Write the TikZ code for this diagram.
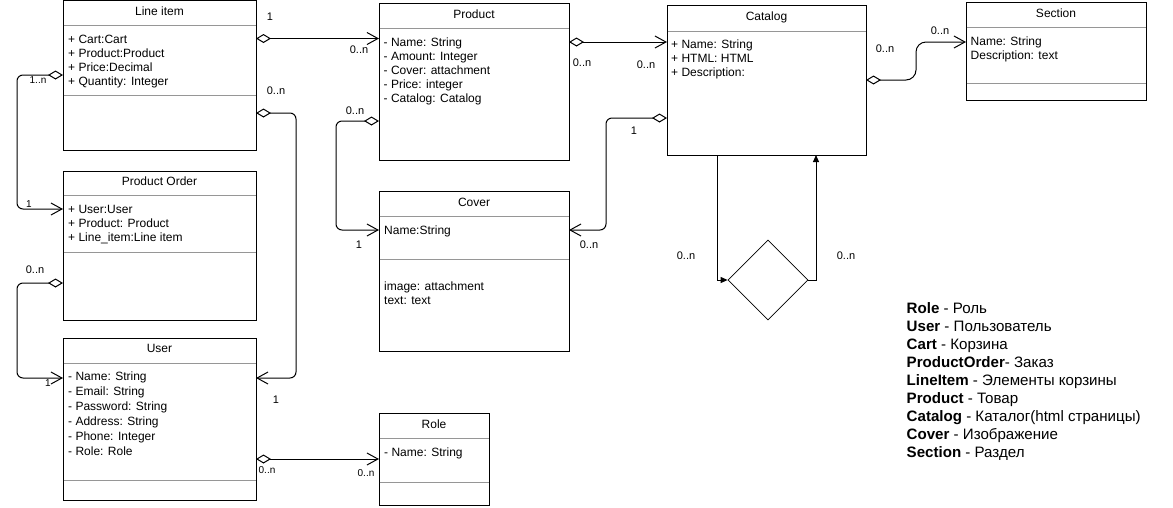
\documentclass[tikz,border=0pt]{standalone}
\usepackage{fontspec}
\setmainfont{Liberation Sans}
\usetikzlibrary{arrows.meta,shapes.geometric}
\definecolor{sepgray}{RGB}{150,150,150}
\tikzset{
 cls/.style={draw=black, line width=1pt, anchor=north west, inner sep=0pt, outer sep=0pt},
 sepline/.style={draw=sepgray, line width=1pt, shorten <=0.5pt, shorten >=0.5pt},
 ttl/.style={anchor=base, inner sep=0pt, font=\fontsize{12}{14}\selectfont},
 attr/.style={anchor=base west, inner sep=0pt, font=\fontsize{12}{14}\selectfont},
 mult/.style={inner sep=0pt, font=\fontsize{11}{13}\selectfont},
 smult/.style={inner sep=0pt, font=\fontsize{10}{12}\selectfont},
 agg/.style={draw, line width=1pt, rounded corners=6pt, arrows={Diamond[open,length=15pt,width=9pt]-Straight Barb[length=11pt,width=12pt]}},
 flow/.style={draw, line width=1pt, -{Triangle[length=7pt,width=6pt]}},
 dshape/.style={diamond, draw, line width=0.8pt, minimum width=80pt, minimum height=80pt, inner sep=0pt, aspect=1},
 legend/.style={anchor=base west, inner sep=0pt, font=\fontsize{15.1}{18}\selectfont},
}
\begin{document}
\begin{tikzpicture}[x=1pt,y=-1pt]
\useasboundingbox (0,0) rectangle (1173,507);

% ---------- Line item
\node[cls, minimum width=193pt, minimum height=149.5pt] (li) at (63,0.5) {};
\draw[sepline] (li.west |- 0,25.5) -- (li.east |- 0,25.5);
\draw[sepline] (li.west |- 0,95.5) -- (li.east |- 0,95.5);
\node[ttl] (li-t) at (159.5,15.5) {Line item};
\foreach \t [count=\i] in {+ Cart:Cart, + Product:Product, + Price:Decimal, + Quantity: Integer}
  \node[attr] (li-a\i) at ({68},{43+14*(\i-1)}) {\t};

% ---------- Product Order
\node[cls, minimum width=193pt, minimum height=149pt] (po) at (63,171) {};
\draw[sepline] (po.west |- 0,195.5) -- (po.east |- 0,195.5);
\draw[sepline] (po.west |- 0,252) -- (po.east |- 0,252);
\node[ttl] (po-t) at (159.5,185.5) {Product Order};
\foreach \t [count=\i] in {+ User:User, + Product: Product, + Line\_item:Line item}
  \node[attr] (po-a\i) at ({68},{213+14*(\i-1)}) {\t};

% ---------- User
\node[cls, minimum width=193pt, minimum height=162pt] (user) at (63,338) {};
\draw[sepline] (user.west |- 0,363) -- (user.east |- 0,363);
\draw[sepline] (user.west |- 0,480) -- (user.east |- 0,480);
\node[ttl] (user-t) at (159.5,352) {User};
\foreach \t [count=\i] in {- Name: String, - Email: String, - Password: String, - Address: String, - Phone: Integer, - Role: Role}
  \node[attr] (user-a\i) at ({68},{380+15*(\i-1)}) {\t};

% ---------- Product
\node[cls, minimum width=190pt, minimum height=156.5pt] (prod) at (379,3.5) {};
\draw[sepline] (prod.west |- 0,28.5) -- (prod.east |- 0,28.5);
\node[ttl] (prod-t) at (474,18) {Product};
\foreach \t [count=\i] in {- Name: String, - Amount: Integer, - Cover: attachment, - Price: integer, - Catalog: Catalog}
  \node[attr] (prod-a\i) at ({383.5},{46+14*(\i-1)}) {\t};

% ---------- Cover
\node[cls, minimum width=190pt, minimum height=159.5pt] (cover) at (379,191.5) {};
\draw[sepline] (cover.west |- 0,216.5) -- (cover.east |- 0,216.5);
\draw[sepline] (cover.west |- 0,259) -- (cover.east |- 0,259);
\node[ttl] (cover-t) at (474,206) {Cover};
\node[attr] (cover-a1) at (384,234) {Name:String};
\node[attr] (cover-a2) at (384,290) {image: attachment};
\node[attr] (cover-a3) at (384,304) {text: text};

% ---------- Role
\node[cls, minimum width=110pt, minimum height=91.5pt] (role) at (379,413.5) {};
\draw[sepline] (role.west |- 0,438.5) -- (role.east |- 0,438.5);
\draw[sepline] (role.west |- 0,482) -- (role.east |- 0,482);
\node[ttl] (role-t) at (434,428) {Role};
\node[attr] (role-a1) at (384,456) {- Name: String};

% ---------- Catalog
\node[cls, minimum width=199pt, minimum height=150pt] (cat) at (667,5) {};
\draw[sepline] (cat.west |- 0,31) -- (cat.east |- 0,31);
\node[ttl] (cat-t) at (766.5,20) {Catalog};
\foreach \t [count=\i] in {+ Name: String, + HTML: HTML, + Description:}
  \node[attr] (cat-a\i) at ({671},{48+14*(\i-1)}) {\t};

% ---------- Section
\node[cls, minimum width=180pt, minimum height=97.5pt] (sec) at (966,2.5) {};
\draw[sepline] (sec.west |- 0,27.5) -- (sec.east |- 0,27.5);
\draw[sepline] (sec.west |- 0,83.5) -- (sec.east |- 0,83.5);
\node[ttl] (sec-t) at (1056,17) {Section};
\node[attr] (sec-a1) at (970.5,45) {Name: String};
\node[attr] (sec-a2) at (970.5,59) {Description: text};

% ---------- Diamond
\node[dshape] (dia) at (768,280) {};

% ---------- Connectors
\draw[agg] (li.east |- 0,38.5) -- (prod.west |- 0,38.5);
\draw[agg] (li.east |- 0,113) -| (296,378) -- (user.east |- 0,378);
\draw[agg] (li.west |- 0,75) -| (17,209) -- (po.west |- 0,209);
\draw[agg] (po.west |- 0,283) -| (17,378) -- (user.west |- 0,378);
\draw[agg] (user.east |- 0,459) -- (role.west |- 0,459);
\draw[agg] (prod.west |- 0,121) -| (336,230) -- (cover.west |- 0,230);
\draw[agg] (prod.east |- 0,42) -- (cat.west |- 0,42);
\draw[agg] (cat.west |- 0,118) -| (606,230) -- (cover.east |- 0,230);
\draw[agg, rounded corners=10pt] (cat.east |- 0,80) -| (916,42) -- (sec.west |- 0,42);
\draw[flow] (cat.south -| 717,0) |- (dia.west);
\draw[flow] (dia.east) -| (cat.south -| 816,0);

% ---------- Multiplicities
\node[mult] (m1) at (270,17) {1};
\node[mult] (m2) at (359,50) {0..n};
\node[mult] (m3) at (276,91) {0..n};
\node[mult] (m4) at (276,400) {1};
\node[smult] (m5) at (38,80) {1..n};
\node[smult] (m6) at (29,204) {1};
\node[mult] (m7) at (35,270) {0..n};
\node[smult] (m8) at (48,383) {1};
\node[smult] (m9) at (267,470) {0..n};
\node[smult] (m10) at (366,473) {0..n};
\node[mult] (m11) at (355,111) {0..n};
\node[mult] (m12) at (359,245) {1};
\node[mult] (m13) at (582,63) {0..n};
\node[mult] (m14) at (646,65) {0..n};
\node[mult] (m15) at (634,131) {1};
\node[mult] (m16) at (589,245) {0..n};
\node[mult] (m17) at (885,49) {0..n};
\node[mult] (m18) at (940,31) {0..n};
\node[mult] (m19) at (686,256) {0..n};
\node[mult] (m20) at (846,256) {0..n};

% ---------- Legend
\node[legend] (lg1) at (906.5,313) {\textbf{Role} - Роль};
\node[legend] (lg2) at (906.5,331.1) {\textbf{User} - Пользователь};
\node[legend] (lg3) at (906.5,349.2) {\textbf{Cart} - Корзина};
\node[legend] (lg4) at (906.5,367.3) {\textbf{ProductOrder}- Заказ};
\node[legend] (lg5) at (906.5,385.4) {\textbf{LineItem} - Элементы корзины};
\node[legend] (lg6) at (906.5,403.5) {\textbf{Product} - Товар};
\node[legend] (lg7) at (906.5,421.6) {\textbf{Catalog} - Каталог(html страницы)};
\node[legend] (lg8) at (906.5,439.7) {\textbf{Cover} - Изображение};
\node[legend] (lg9) at (906.5,457.8) {\textbf{Section} - Раздел};
\end{tikzpicture}
\end{document}
